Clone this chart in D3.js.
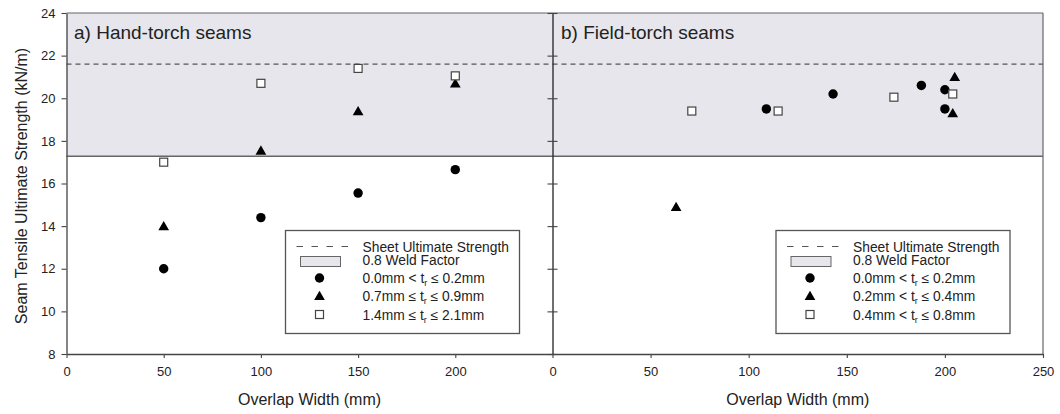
<!DOCTYPE html>
<html>
<head>
<meta charset="utf-8">
<script src="https://cdn.jsdelivr.net/npm/d3@7"></script>
<style>
  body { margin: 0; background: #fff; }
  text { font-family: "Liberation Sans", Arial, sans-serif; fill: #222; }
</style>
</head>
<body>
<script>
// hand-torch seams (panel a)
const handX = [50, 100, 150, 200];
const handCircle = [12.0, 14.4, 15.55, 16.65];
const handTriangle = [13.95, 17.5, 19.35, 20.65];
const handSquare = [17.0, 20.7, 21.4, 21.05];

// field-torch seams (panel b)
const fieldCircleX = [109, 143, 188, 200, 200];
const fieldCircleY = [19.5, 20.2, 20.6, 20.4, 19.5];
const fieldTriangleX = [63, 204, 205];
const fieldTriangleY = [14.85, 19.25, 20.95];
const fieldSquareX = [71, 115, 174, 204];
const fieldSquareY = [19.4, 19.4, 20.05, 20.2];

const sheetStrength = 21.6;
const weldFactor = 0.8;

const yTicks = [8, 10, 12, 14, 16, 18, 20, 22, 24];
const xTicksA = [0, 50, 100, 150, 200];
const xTicksB = [0, 50, 100, 150, 200, 250];

const legendA = ['0.0mm < t|r| ≤ 0.2mm', '0.7mm ≤ t|r| ≤ 0.9mm', '1.4mm ≤ t|r| ≤ 2.1mm'];
const legendB = ['0.0mm < t|r| ≤ 0.2mm', '0.2mm < t|r| ≤ 0.4mm', '0.4mm < t|r| ≤ 0.8mm'];

const svg = d3.select('body')
    .append('svg')
    .attr('width', 1060)
    .attr('height', 414);

const plotTop = 13, plotBottom = 354;
const y = d3.scaleLinear().domain([8, 24]).range([plotBottom, plotTop]);
const xa = d3.scaleLinear().domain([0, 250]).range([66.5, 552.5]);
const xb = d3.scaleLinear().domain([0, 250]).range([552.5, 1043]);

// shaded weld factor band
svg.append('rect')
    .attr('x', xa(0))
    .attr('y', y(24))
    .attr('width', xb(250) - xa(0))
    .attr('height', y(sheetStrength * weldFactor) - y(24))
    .attr('fill', '#e6e6ec');

svg.append('line')
    .attr('x1', xa(0)).attr('x2', xb(250))
    .attr('y1', y(sheetStrength * weldFactor)).attr('y2', y(sheetStrength * weldFactor))
    .attr('stroke', '#666').attr('stroke-width', 1.5);

svg.append('line')
    .attr('x1', xa(0)).attr('x2', xb(250))
    .attr('y1', y(sheetStrength)).attr('y2', y(sheetStrength))
    .attr('stroke', '#555').attr('stroke-width', 1.2)
    .attr('stroke-dasharray', '5,4');

// frame
svg.append('line')
    .attr('x1', xa(0)).attr('x2', xb(250)).attr('y1', plotTop).attr('y2', plotTop)
    .attr('stroke', '#666').attr('stroke-width', 1.2);
svg.append('line')
    .attr('x1', xb(250)).attr('x2', xb(250)).attr('y1', plotTop).attr('y2', plotBottom)
    .attr('stroke', '#666').attr('stroke-width', 1.2);

// axes
function styleAxis(g) {
    g.select('.domain').attr('stroke', '#444').attr('stroke-width', 1.3);
    g.selectAll('.tick line').attr('stroke', '#444').attr('stroke-width', 1.1);
    g.selectAll('.tick text')
        .style('font-family', '"Liberation Sans", Arial, sans-serif')
        .style('font-size', '13px')
        .attr('fill', '#333');
}

svg.append('g')
    .attr('transform', `translate(${xa(0)},0)`)
    .call(d3.axisLeft(y).tickValues(yTicks).tickSize(5).tickPadding(6).tickSizeOuter(0))
    .call(styleAxis);

const midAxis = svg.append('g')
    .attr('transform', `translate(${xb(0)},0)`)
    .call(d3.axisLeft(y).tickValues(yTicks).tickSize(5).tickFormat('').tickSizeOuter(0))
    .call(styleAxis);
midAxis.selectAll('.tick line').attr('x2', 5).attr('x1', -5);
midAxis.select('.domain').attr('stroke', '#222');

svg.append('g')
    .attr('transform', `translate(0,${plotBottom})`)
    .call(d3.axisBottom(xa).tickValues(xTicksA).tickSize(4).tickPadding(9).tickSizeOuter(0))
    .call(styleAxis);

svg.append('g')
    .attr('transform', `translate(0,${plotBottom})`)
    .call(d3.axisBottom(xb).tickValues(xTicksB).tickSize(4).tickPadding(9).tickSizeOuter(0))
    .call(styleAxis);

// titles
svg.append('text')
    .attr('x', 74).attr('y', 39)
    .style('font-size', '19px')
    .text('a) Hand-torch seams');
svg.append('text')
    .attr('x', 561).attr('y', 39)
    .style('font-size', '19px')
    .text('b) Field-torch seams');

svg.append('text')
    .attr('transform', 'translate(27,186) rotate(-90)')
    .attr('text-anchor', 'middle')
    .style('font-size', '16px')
    .text('Seam Tensile Ultimate Strength (kN/m)');

[xa, xb].forEach(x => {
    svg.append('text')
        .attr('x', (x(0) + x(250)) / 2).attr('y', 405)
        .attr('text-anchor', 'middle')
        .style('font-size', '16px')
        .text('Overlap Width (mm)');
});

// markers
const circleSym = d3.symbol().type(d3.symbolCircle).size(70);
const triSym = d3.symbol().type(d3.symbolTriangle).size(50);

function drawCircles(xs, ys, x) {
    svg.append('g').selectAll('path')
        .data(xs)
        .enter()
        .append('path')
        .attr('d', circleSym)
        .attr('transform', (d, i) => `translate(${x(d)},${y(ys[i])})`)
        .attr('fill', '#000');
}
function drawTriangles(xs, ys, x) {
    svg.append('g').selectAll('path')
        .data(xs)
        .enter()
        .append('path')
        .attr('d', triSym)
        .attr('transform', (d, i) => `translate(${x(d)},${y(ys[i])})`)
        .attr('fill', '#000');
}
function drawSquares(xs, ys, x) {
    svg.append('g').selectAll('rect')
        .data(xs)
        .enter()
        .append('rect')
        .attr('x', d => x(d) - 4)
        .attr('y', (d, i) => y(ys[i]) - 4)
        .attr('width', 8).attr('height', 8)
        .attr('fill', '#fff')
        .attr('stroke', '#444')
        .attr('stroke-width', 1.2);
}

drawCircles(handX, handCircle, xa);
drawTriangles(handX, handTriangle, xa);
drawSquares(handX, handSquare, xa);

drawCircles(fieldCircleX, fieldCircleY, xb);
drawTriangles(fieldTriangleX, fieldTriangleY, xb);
drawSquares(fieldSquareX, fieldSquareY, xb);

// legends
function drawLegend(x, labels) {
    const left = x(250) - 267;
    const lt = 230.5;
    const g = svg.append('g').attr('transform', `translate(${left},${lt})`);
    g.append('rect')
        .attr('width', 234).attr('height', 103)
        .attr('fill', '#fff')
        .attr('stroke', '#555').attr('stroke-width', 1.3);
    g.append('line')
        .attr('x1', 11).attr('x2', 64).attr('y1', 16).attr('y2', 16)
        .attr('stroke', '#555').attr('stroke-width', 1.2)
        .attr('stroke-dasharray', '6.5,8.5');
    g.append('rect')
        .attr('x', 15).attr('y', 26).attr('width', 40).attr('height', 10)
        .attr('fill', '#e6e6ec').attr('stroke', '#666').attr('stroke-width', 1);
    g.append('path').attr('d', circleSym).attr('transform', 'translate(34,47.5)').attr('fill', '#000');
    g.append('path').attr('d', triSym).attr('transform', 'translate(34,66.5)').attr('fill', '#000');
    g.append('rect').attr('x', 30).attr('y', 80).attr('width', 8).attr('height', 8)
        .attr('fill', '#fff').attr('stroke', '#444').attr('stroke-width', 1.2);

    const rows = [21.5, 34.5, 52, 70.5, 89];
    const texts = ['Sheet Ultimate Strength', '0.8 Weld Factor'].concat(labels);
    texts.forEach((t, i) => {
        const txt = g.append('text')
            .attr('x', 77).attr('y', rows[i])
            .style('font-size', '13.8px');
        const parts = t.split('|');
        txt.append('tspan').text(parts[0]);
        if (parts.length > 1) {
            txt.append('tspan').attr('dy', 3).style('font-size', '9px').text(parts[1]);
            txt.append('tspan').attr('dy', -3).text(parts[2]);
        }
    });
}

drawLegend(xa, legendA);
drawLegend(xb, legendB);
</script>
</body>
</html>
